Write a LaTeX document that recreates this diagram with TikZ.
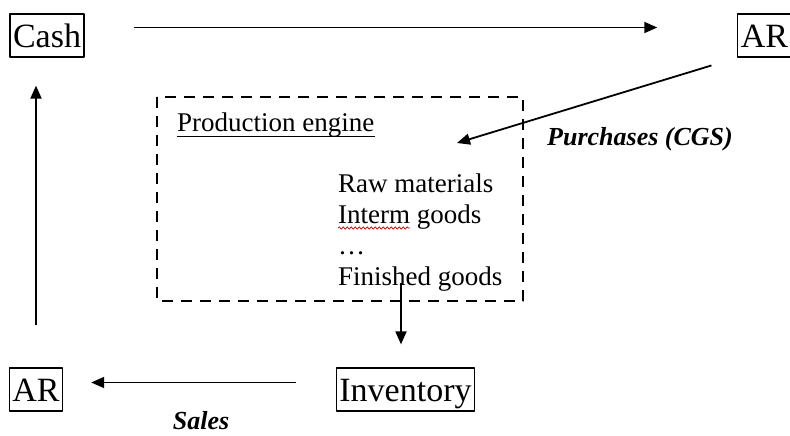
\documentclass[tikz,border=0pt]{standalone}
\usepackage{fontspec}
\setmainfont{Liberation Serif}
\usetikzlibrary{arrows.meta,decorations.pathmorphing}

\begin{document}
\begin{tikzpicture}[x=1pt,y=-1pt,line join=round,
  acct/.style={draw,line width=1.2pt,inner xsep=3pt,inner ysep=4.5pt,
    font=\fontsize{34}{40}\selectfont,text height=29pt,text depth=5pt},
  flow/.style={line width=1.8pt,-{Triangle[length=13pt,width=11pt]}},
  note/.style={inner sep=1pt,font=\fontsize{26}{30}\selectfont\bfseries\itshape},
  body/.style={font=\fontsize{27}{31}\selectfont}]

  % ---- page (pixel grid, y runs downwards) ----
  \useasboundingbox (0,0) rectangle (790,436);

  % ---- accounts ----
  \node[acct] (cash)  at (47,35.5)    {Cash};
  \node[acct] (arTop) at (764.5,35.5) {AR};
  \node[acct] (arBot) at (36,389.5)   {AR};
  \node[acct] (inv)   at (405.5,389.5) {Inventory};

  % ---- production engine (dashed box) ----
  \draw[line width=2.8pt,dash pattern=on 11pt off 8pt] (157,97) rectangle (523,301);
  \node[body,inner sep=0pt,anchor=base west] (engine) at (177,131) {Production engine};
  \draw[line width=0.9pt] ([yshift=-5pt]engine.base west) -- ([yshift=-5pt]engine.base east);

  \node[body,inner sep=0pt,anchor=north west,align=left] (stages) at (338,174)
    {Raw materials\\Interm goods\\…\\Finished goods};
  % spell-check squiggle under "Interm"
  \draw[red!80!black,line width=0.7pt,decorate,
    decoration={snake,amplitude=1.2pt,segment length=4pt}] (338,228) -- (410,228);

  % ---- flows ----
  \coordinate (purchIn) at (457,143);
  \coordinate (fgOut)   at (401,283);

  \draw[flow,shorten <=49pt,shorten >=80pt] ([yshift=8pt]cash.east) -- ([yshift=8pt]arTop.west);
  \draw[flow,shorten <=27pt] (arTop.south west) -- (purchIn);
  \draw[flow,shorten >=23pt] (fgOut) -- (fgOut |- inv.north);
  \draw[flow,shorten <=40pt,shorten >=28pt] ([yshift=7pt]inv.west) -- ([yshift=7pt]arBot.east);
  \draw[flow,shorten <=42pt,shorten >=28pt] (arBot.north) -- (arBot.north |- cash.south);

  % ---- flow labels ----
  \node[note,anchor=base] (purch) at (640,145) {Purchases (CGS)};
  \node[note,anchor=base] (sales) at (201,429) {Sales};

\end{tikzpicture}
\end{document}
